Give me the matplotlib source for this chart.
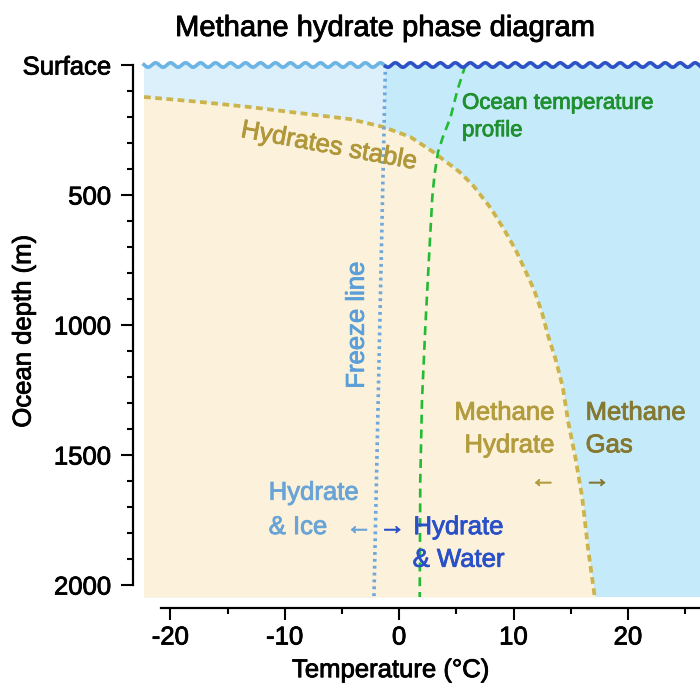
import numpy as np
import matplotlib.pyplot as plt
import matplotlib.patheffects as pe

plt.rcParams['font.family'] = ['Liberation Sans', 'DejaVu Sans']
plt.rcParams['axes.unicode_minus'] = False

# axis ticks
temp_ticks = [-20, -10, 0, 10, 20]
depth_ticks = [0, 500, 1000, 1500, 2000]
depth_labels = ['Surface', '500', '1000', '1500', '2000']

# hydrate stability boundary (temperature degC, depth m)
stab_temp = [-22.3, -17.4, -13.0, -8.7, -4.3, -1.4, 1.0, 3.0, 5.3, 6.5, 8.0, 9.1, 10.2,
             11.0, 11.8, 12.5, 13.0, 13.7, 14.3, 14.8, 15.4, 16.0, 16.5, 17.1]
stab_depth = [123, 142, 162, 185, 208, 238, 277, 335, 412, 465, 550, 627, 712,
              788, 865, 954, 1038, 1135, 1238, 1377, 1508, 1662, 1854, 2046]

# ocean temperature profile
ocean_temp = [5.8, 5.1, 4.5, 3.8, 3.4, 3.1, 2.9, 2.6, 2.3, 2.0, 1.85, 1.8]
ocean_depth = [0, 96, 200, 280, 335, 420, 508, 750, 1000, 1288, 1596, 2046]

# freezing line of seawater
freeze_temp = [-1.2, -2.2]
freeze_depth = [0, 2046]

xmin, xmax = -22.3, 26.3
ymax = 2046

# slightly heavier text, like the reference rendering
def heavy():
    return [pe.Stroke(linewidth=0.6), pe.Normal()]

fig = plt.figure(figsize=(7, 6.88), dpi=100)
ax = fig.add_axes([144/700, 91/688, 556/700, 532/688])
ax.set_xlim(xmin, xmax)
ax.set_ylim(ymax, 0)

ax.set_facecolor('#c5ebfa')
ax.fill_betweenx(freeze_depth, xmin - 5, freeze_temp, color='#dcf0fb', lw=0, zorder=0)
ax.fill_betweenx(stab_depth, xmin - 5, stab_temp, color='#fcf1da', lw=0, zorder=1)

# boundary lines
ax.plot(stab_temp, stab_depth, color='#cbb44c', lw=2.7, dashes=(1.8, 1.2), zorder=3)
ax.plot(ocean_temp, ocean_depth, color='#22bb33', lw=1.9, dashes=(3.4, 2.2), zorder=3)
ax.plot(freeze_temp, freeze_depth, color='#6fa8dc', lw=2.6, dashes=(0.8, 1.1), zorder=3)

# wavy sea surface
wt = np.linspace(xmin, xmax, 1200)
wy = 8.5 * np.sin(2 * np.pi * wt / 1.31)
left = wt <= freeze_temp[0]
ax.plot(wt[left], wy[left], color='#6bb4e4', lw=2.6, clip_on=False, zorder=4)
ax.plot(wt[~left], wy[~left], color='#2c52c6', lw=2.6, clip_on=False, zorder=4)

# axes styling
for s in ['top', 'right']:
    ax.spines[s].set_visible(False)
for s in ['left', 'bottom']:
    ax.spines[s].set_position(('outward', 8))
    ax.spines[s].set_linewidth(1.6)
ax.spines['left'].set_bounds(0, 2000)
ax.spines['bottom'].set_bounds(-20.8, xmax)

ax.set_xticks(temp_ticks)
ax.set_xticks([-15, -5, 5, 15, 25], minor=True)
ax.set_yticks(depth_ticks)
ax.set_yticklabels(depth_labels)
ax.set_yticks(np.arange(100, 2000, 100), minor=True)
ax.tick_params(which='major', length=8.5, width=1.5, labelsize=18.5)
ax.tick_params(which='minor', length=4, width=1.5)
ax.tick_params(axis='y', which='major', pad=7)
ax.tick_params(axis='x', which='major', pad=4)
for lab in ax.get_xticklabels() + ax.get_yticklabels():
    lab.set_path_effects(heavy())

ax.set_xlabel('Temperature (°C)', fontsize=18.5, path_effects=heavy())
ax.xaxis.set_label_coords(0.444, -0.115)
ax.set_ylabel('Ocean depth (m)', fontsize=18.5, path_effects=heavy())
ax.yaxis.set_label_coords(-0.195, 0.5)

fig.text(385/700, 1 - 28/688, 'Methane hydrate phase diagram', fontsize=21,
         ha='center', va='center', path_effects=heavy())

# annotations
ax.text(-6.1, 312, 'Hydrates stable', color='#b0973a', fontsize=18.5, rotation=-10.5,
        ha='center', va='center', rotation_mode='anchor', path_effects=heavy())
ax.text(5.5, 200, 'Ocean temperature\nprofile', color='#1f8f2f', fontsize=16,
        ha='left', va='center', linespacing=1.4, path_effects=heavy())
ax.text(-3.7, 1000, 'Freeze line', color='#5a9fd8', fontsize=18.5, rotation=90,
        ha='center', va='center', path_effects=heavy())
ax.text(-11.4, 1645, 'Hydrate', color='#6aa4d6', fontsize=18.5,
        ha='left', va='center', path_effects=heavy())
ax.text(-11.4, 1777, '& Ice', color='#6aa4d6', fontsize=18.5,
        ha='left', va='center', path_effects=heavy())
ax.text(-3.5, 1777, '←', color='#6aa4d6', fontsize=19, ha='center', va='center',
        path_effects=heavy())
ax.text(-0.6, 1777, '→', color='#2a50c8', fontsize=19, ha='center', va='center',
        path_effects=heavy())
ax.text(5.2, 1840, 'Hydrate\n& Water', color='#2a50c8', fontsize=18.5,
        ha='center', va='center', linespacing=1.45, path_effects=heavy())
ax.text(13.6, 1400, 'Methane\nHydrate', color='#b39c3d', fontsize=18.5,
        ha='right', va='center', linespacing=1.45, multialignment='right',
        path_effects=heavy())
ax.text(12.6, 1596, '←', color='#b39c3d', fontsize=19, ha='center', va='center',
        path_effects=heavy())
ax.text(16.3, 1400, 'Methane\nGas', color='#857830', fontsize=18.5,
        ha='left', va='center', linespacing=1.45, path_effects=heavy())
ax.text(17.3, 1596, '→', color='#857830', fontsize=19, ha='center', va='center',
        path_effects=heavy())

fig.savefig('out.png', dpi=100)
